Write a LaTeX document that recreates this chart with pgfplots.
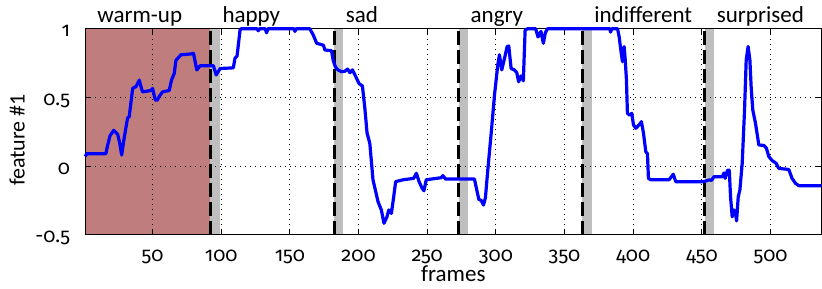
\documentclass[border=0pt]{standalone}
\usepackage{fontspec}
\setmainfont{Carlito}
\newfontfamily\tickfont{Fira Sans}[Numbers=OldStyle]
\usepackage{pgfplots}
\pgfplotsset{compat=1.18}
\definecolor{warm}{RGB}{191,126,125}
\definecolor{band}{RGB}{191,191,191}
\begin{document}
\begin{tikzpicture}
\begin{axis}[
  at={(0pt,0pt)}, anchor=south west,
  scale only axis, width=736pt, height=206pt,
  xmin=1, xmax=537, ymin=-0.5, ymax=1,
  xtick={50,100,150,200,250,300,350,400,450,500},
  xticklabels={50,100,150,200,250,300,350,400,450,500},
  ytick={-0.5,0,0.5,1}, yticklabels={-0.5,0,0.5,1},
  tick align=inside, major tick length=5pt,
  grid=major,
  major grid style={black, line width=0.8pt, dash pattern=on 1pt off 4pt},
  axis line style={black, line width=0.9pt},
  tick style={black, line width=0.9pt},
  set layers=standard,
  clip=false,
  xticklabel style={font=\tickfont\fontsize{20}{24}\selectfont, anchor=base, inner sep=0pt, yshift=-27pt},
  yticklabel style={font=\tickfont\fontsize{20}{24}\selectfont, anchor=base east, inner sep=0pt, xshift=-15pt, yshift=-8pt},
  xlabel={frames}, ylabel={feature \#1},
  xlabel style={at={(axis description cs:0.5,0)}, anchor=base, inner sep=0pt, yshift=-47pt, font=\fontsize{23}{27}\selectfont},
  ylabel style={at={(axis description cs:-0.0825,0.46)}, anchor=base, inner sep=0pt, font=\fontsize{22}{26}\selectfont},
]
% warm-up region
\addplot[fill=warm, draw=none, on layer=axis background] coordinates {(1,-0.5) (1,1) (92,1) (92,-0.5)} -- cycle;
% gray transition bands
\addplot[fill=band, draw=none, on layer=axis background] coordinates {(92,-0.5) (92,1) (99,1) (99,-0.5)} -- cycle;
\addplot[fill=band, draw=none, on layer=axis background] coordinates {(182,-0.5) (182,1) (189,1) (189,-0.5)} -- cycle;
\addplot[fill=band, draw=none, on layer=axis background] coordinates {(273,-0.5) (273,1) (280,1) (280,-0.5)} -- cycle;
\addplot[fill=band, draw=none, on layer=axis background] coordinates {(363,-0.5) (363,1) (370,1) (370,-0.5)} -- cycle;
\addplot[fill=band, draw=none, on layer=axis background] coordinates {(452,-0.5) (452,1) (459,1) (459,-0.5)} -- cycle;
% dashed separators
\addplot[black, line width=3pt, dash pattern=on 14pt off 5pt] coordinates {(92.2,-0.5) (92.2,1)};
\addplot[black, line width=3pt, dash pattern=on 14pt off 5pt] coordinates {(182.2,-0.5) (182.2,1)};
\addplot[black, line width=3pt, dash pattern=on 14pt off 5pt] coordinates {(273,-0.5) (273,1)};
\addplot[black, line width=3pt, dash pattern=on 14pt off 5pt] coordinates {(363.1,-0.5) (363.1,1)};
\addplot[black, line width=3pt, dash pattern=on 14pt off 5pt] coordinates {(451.8,-0.5) (451.8,1)};
% feature curve
\addplot[blue, line width=3.2pt, line join=round] coordinates {
(1,0.07) (2,0.09) (16,0.09) (17,0.14) (19,0.22) (21.7,0.26) (24.6,0.23) (26,0.17) (27.5,0.08)
(29.4,0.21) (31.8,0.35) (33,0.36) (35.5,0.566) (37.9,0.578) (40.3,0.626) (41.5,0.58) (42.7,0.54)
(48.8,0.55) (50,0.565) (52,0.48) (53.5,0.48) (55,0.51) (57.3,0.54) (62.1,0.55) (63.8,0.626)
(65.8,0.675) (67,0.77) (68,0.78) (70.6,0.81) (77.9,0.816) (79.8,0.82) (81,0.76) (82.2,0.70)
(84.6,0.73) (94.3,0.73) (96.3,0.663) (99.2,0.71) (108.8,0.715) (110,0.785) (111.5,0.80)
(113.7,0.99) (114.5,1) (126,1) (127,0.985) (128,1) (132,1) (133,0.97) (134,1) (153,1)
(153.7,0.98) (154.5,1) (164.5,1) (167,0.954) (169.5,0.894) (174.4,0.88) (175.5,0.845)
(180.3,0.84) (181.5,0.77) (183.2,0.72) (185,0.70) (187.6,0.687) (190,0.69) (192,0.706)
(193.7,0.68) (195.6,0.70) (198,0.65) (200.4,0.60) (202.8,0.583) (204.5,0.43) (206.2,0.24)
(208.2,0.165) (210.5,-0.10) (214.2,-0.26) (216.6,-0.32) (218.5,-0.417) (220.7,-0.37)
(222,-0.32) (223.9,-0.345) (225.6,-0.224) (227,-0.114) (232.4,-0.10) (240.1,-0.09)
(242.1,-0.053) (244.1,-0.114) (246.2,-0.16) (247.6,-0.18) (249.3,-0.10) (260.2,-0.085)
(261.4,-0.07) (263.4,-0.095) (284.4,-0.095) (286.1,-0.175) (287.6,-0.243) (289.3,-0.25)
(291,-0.284) (292.4,-0.23) (294.1,-0.03) (296.6,0.24) (299,0.517) (301.4,0.736) (302.6,0.81)
(304.3,0.70) (306.2,0.78) (308.2,0.87) (309.4,0.874) (311.1,0.71) (313.5,0.70) (315.2,0.68)
(316.6,0.614) (318.3,0.656) (320,0.62) (321.3,0.99) (323.2,1) (329,1) (330.7,0.94)
(332.8,0.98) (334.6,0.894) (336,0.97) (337.6,1) (383,1) (383.5,0.975) (384.5,1) (388.6,1)
(389.8,0.94) (391,0.845) (392.2,0.76) (393.4,0.87) (394.1,0.79) (395.1,0.626) (395.8,0.384)
(397.5,0.37) (399,0.384) (400.2,0.30) (401.9,0.275) (404.3,0.30) (406,0.323) (407.5,0.24)
(409.2,0.104) (410.4,0.09) (411.1,-0.09) (412.8,-0.10) (426.1,-0.10) (429.2,-0.06)
(431,-0.114) (450.3,-0.114) (452.7,-0.11) (455.6,-0.10) (457,-0.105) (458.8,-0.078)
(464.9,-0.078) (466.1,-0.05) (467,-0.09) (468.7,-0.03) (470,-0.03) (470.9,-0.224)
(472.1,-0.37) (473.3,-0.32) (474.3,-0.33) (475.3,-0.40) (476.5,-0.224) (477.7,-0.175)
(479.4,0.02) (481.1,0.408) (482.3,0.772) (483.7,0.87) (485,0.77) (485.9,0.578) (487.1,0.408)
(489.1,0.31) (491.5,0.153) (495.2,0.15) (497,0.13) (498.8,0.068) (501.2,0.04) (504.1,0.02)
(506,-0.017) (513.3,-0.025) (515.7,-0.09) (518.2,-0.126) (520.6,-0.143) (537,-0.143)
};
% segment labels
\node[anchor=base west, inner sep=0pt, font=\fontsize{23}{27}\selectfont] at (axis cs:9.6,1.044) {warm-up};
\node[anchor=base west, inner sep=0pt, font=\fontsize{23}{27}\selectfont] at (axis cs:100.8,1.044) {happy};
\node[anchor=base west, inner sep=0pt, font=\fontsize{23}{27}\selectfont] at (axis cs:190.7,1.044) {sad};
\node[anchor=base west, inner sep=0pt, font=\fontsize{23}{27}\selectfont] at (axis cs:281.5,1.044) {angry};
\node[anchor=base west, inner sep=0pt, font=\fontsize{23}{27}\selectfont] at (axis cs:371.6,1.044) {indifferent};
\node[anchor=base west, inner sep=0pt, font=\fontsize{23}{27}\selectfont] at (axis cs:460.8,1.044) {surprised};
\end{axis}
\pgfresetboundingbox
\path[use as bounding box] (-85.3pt,-54.3pt) rectangle (736.7pt,234.7pt);
\end{tikzpicture}
\end{document}
